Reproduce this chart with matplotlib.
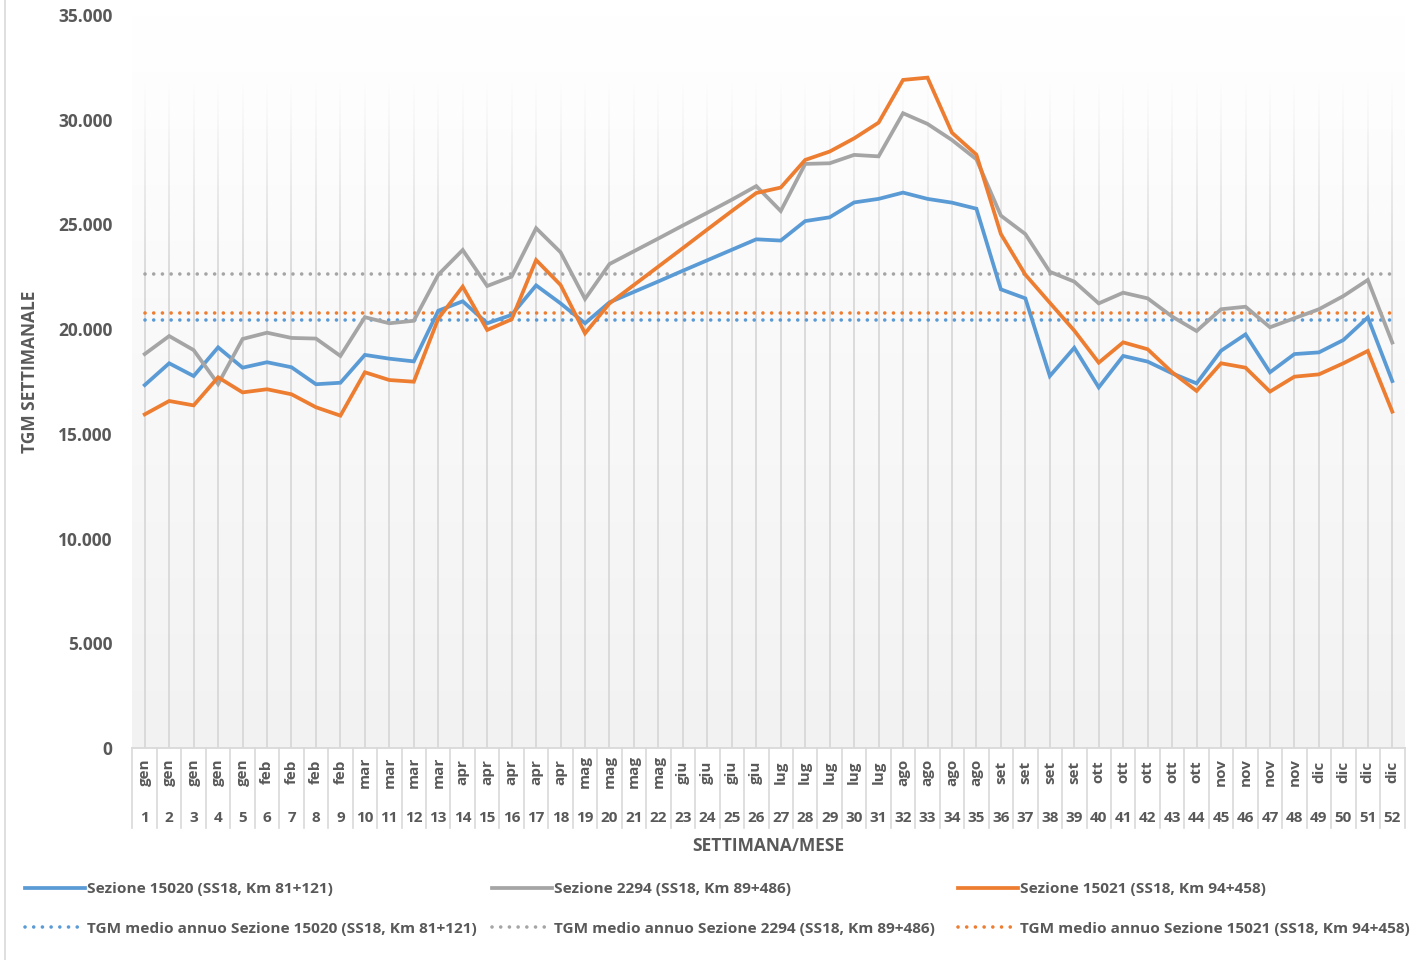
import matplotlib
matplotlib.use('Agg')
import matplotlib.pyplot as plt
import matplotlib.transforms as mtransforms
from matplotlib.lines import Line2D
from matplotlib.collections import LineCollection
from matplotlib.colors import LinearSegmentedColormap, to_rgba
import numpy as np

# Settimane e mesi
settimane = list(range(1, 53))
mesi = (['gen'] * 5 + ['feb'] * 4 + ['mar'] * 4 + ['apr'] * 5 + ['mag'] * 4 + ['giu'] * 4 +
        ['lug'] * 5 + ['ago'] * 4 + ['set'] * 4 + ['ott'] * 5 + ['nov'] * 4 + ['dic'] * 4)

# TGM settimanale - Sezione 15020 (SS18, Km 81+121)
sez_15020 = [17330, 18370, 17760, 19130, 18160, 18420, 18180, 17370, 17440, 18770,
             18590, 18460, 20880, 21330, 20280, 20680, 22090, 21230, 20280, 21280,
             21780, 22280, 22790, 23290, 23790, 24290, 24230, 25160, 25340, 26050,
             26220, 26520, 26220, 26040, 25750, 21900, 21470, 17760, 19110, 17220,
             18720, 18450, 17890, 17410, 18970, 19750, 17940, 18810, 18890, 19480,
             20560, 17520]

# TGM settimanale - Sezione 2294 (SS18, Km 89+486)
sez_2294 = [18810, 19670, 19000, 17380, 19530, 19830, 19580, 19550, 18720, 20570,
            20280, 20400, 22600, 23780, 22060, 22510, 24820, 23670, 21440, 23110,
            23720, 24330, 24950, 25560, 26180, 26830, 25640, 27890, 27920, 28320,
            28250, 30310, 29800, 29030, 28110, 25420, 24540, 22740, 22270, 21230,
            21740, 21470, 20600, 19910, 20950, 21070, 20090, 20520, 20950, 21580,
            22350, 19360]

# TGM settimanale - Sezione 15021 (SS18, Km 94+458)
sez_15021 = [15930, 16570, 16360, 17700, 16980, 17130, 16890, 16270, 15870, 17940,
             17570, 17490, 20500, 22030, 19960, 20470, 23300, 22110, 19800, 21230,
             22110, 22990, 23870, 24760, 25640, 26500, 26760, 28080, 28480, 29110,
             29860, 31900, 32010, 29380, 28330, 24540, 22600, 21260, 19930, 18400,
             19370, 19040, 17940, 17050, 18370, 18160, 17020, 17730, 17840, 18370,
             18960, 16060]

# TGM medio annuo
medio_15020 = 20420
medio_2294 = 22650
medio_15021 = 20770

nomi = ['Sezione 15020 (SS18, Km 81+121)',
        'Sezione 2294 (SS18, Km 89+486)',
        'Sezione 15021 (SS18, Km 94+458)']

colori = ['#5B9BD5', '#A5A5A5', '#ED7D31']
grigio_testo = '#595959'

plt.rcParams['font.family'] = ['Open Sans', 'DejaVu Sans']
plt.rcParams['font.weight'] = 'bold'

fig = plt.figure(figsize=(14.17, 9.6), dpi=100)
W, H = 1417, 960
ax = fig.add_axes([132 / W, 1 - 748 / H, (1405 - 132) / W, (748 - 15) / H])

# Sfondo sfumato dell'area del grafico
cmap = LinearSegmentedColormap.from_list('sfondo', ['#f2f2f2', '#ffffff'])
ax.imshow(np.linspace(0, 1, 256).reshape(-1, 1), extent=[0, 1, 0, 1],
          transform=ax.transAxes, aspect='auto', cmap=cmap, origin='lower', zorder=0)

ax.set_xlim(0.48, 52.52)
ax.set_ylim(0, 35000)

# Griglia verticale, che sfuma verso l'alto
yy = np.linspace(0, 35000, 120)
alfa = np.clip((31500 - yy) / 9000, 0, 1)
segmenti, colori_seg = [], []
for s in settimane:
    for i in range(len(yy) - 1):
        segmenti.append([(s, yy[i]), (s, yy[i + 1])])
        colori_seg.append(to_rgba('#d6d6d6', alfa[i]))
ax.add_collection(LineCollection(segmenti, colors=colori_seg, linewidths=1.2, zorder=1))

# Linee settimanali
serie = [sez_15020, sez_2294, sez_15021]
for valori, col in zip(serie, colori):
    ax.plot(settimane, valori, color=col, lw=2.7, zorder=4, solid_joinstyle='miter')

# Medie annue (punteggiate)
medie = [medio_15020, medio_2294, medio_15021]
stile_punti = (0, (0.01, 2.4))
for m, col in zip(medie, colori):
    ax.plot([settimane[0], settimane[-1]], [m, m], color=col, lw=2.6,
            linestyle=stile_punti, dash_capstyle='round', zorder=3)

# Assi
for sp in ax.spines.values():
    sp.set_visible(False)
ax.axhline(0, color='#d9d9d9', lw=1.3, zorder=2, clip_on=False)
ax.set_xticks([])
yt = np.arange(0, 35001, 5000)
ax.set_yticks(yt)
ax.set_yticklabels([f'{int(v):,}'.replace(',', '.') for v in yt])
ax.tick_params(axis='y', length=0, pad=14, labelsize=12.5, labelcolor=grigio_testo)

# Etichette multilivello (mese / settimana)
trans = mtransforms.blended_transform_factory(ax.transData, fig.transFigure)
y_top = 1 - 748 / H
y_bot = 1 - 828 / H
for k in range(len(settimane) + 1):
    ax.plot([k + 0.5, k + 0.5], [y_top, y_bot], color='#d9d9d9', lw=1.2,
            transform=trans, clip_on=False)
for s, m in zip(settimane, mesi):
    ax.text(s, 1 - 772 / H, m, transform=trans, rotation=90, ha='center', va='center',
            fontsize=11, color=grigio_testo, fontweight='bold')
    ax.text(s, 1 - 818 / H, str(s), transform=trans, ha='center', va='center',
            fontsize=11, color=grigio_testo, fontweight='bold')

# Titoli degli assi
fig.text(768 / W, 1 - 846 / H, 'SETTIMANA/MESE', ha='center', va='center',
         fontsize=12.5, color=grigio_testo, fontweight='bold')
fig.text(30 / W, 1 - 372 / H, 'TGM SETTIMANALE', ha='center', va='center', rotation=90,
         fontsize=12.5, color=grigio_testo, fontweight='bold')

# Bordo sinistro
fig.add_artist(Line2D([4.5 / W, 4.5 / W], [0, 1], color='#d9d9d9', lw=1.2))

# Legenda: tre colonne, due righe
x_col = [25, 492, 958]
for x0, nome, col in zip(x_col, nomi, colori):
    handles = [Line2D([], [], color=col, lw=2.7),
               Line2D([], [], color=col, lw=2.6, linestyle=stile_punti, dash_capstyle='round')]
    labels = [nome, 'TGM medio annuo ' + nome]
    leg = fig.legend(handles, labels, loc='upper left', bbox_to_anchor=(x0 / W, 1 - 882 / H),
                     frameon=False, fontsize=11.1, handlelength=3.9, handletextpad=0.15,
                     labelspacing=1.66, borderaxespad=0, borderpad=0)
    for t in leg.get_texts():
        t.set_color(grigio_testo)
        t.set_fontweight('bold')

fig.savefig('out.png', dpi=100)
